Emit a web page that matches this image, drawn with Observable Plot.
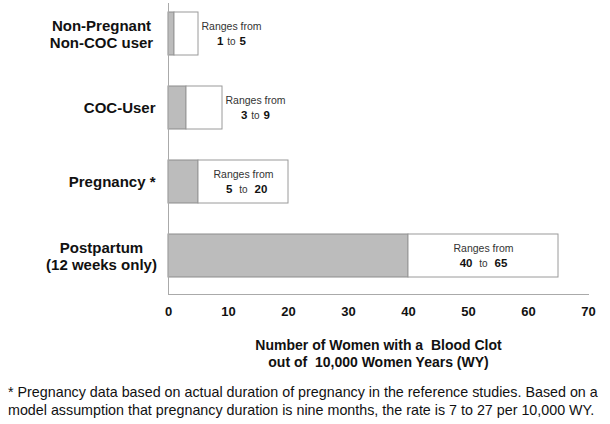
<!DOCTYPE html>
<html>
<head>
<meta charset="utf-8">
<script src="https://cdn.jsdelivr.net/npm/d3@7"></script>
<script src="https://cdn.jsdelivr.net/npm/@observablehq/plot@0.6"></script>
<style>
  body { margin: 0; background: #fff; font-family: "Liberation Sans", Arial, sans-serif; }
  #foot { font-size: 14.3px; line-height: 18px; padding: 13px 0 0 8px; white-space: nowrap; color: #111; }
</style>
</head>
<body>
<div id="chart"></div>
<div id="foot">* Pregnancy data based on actual duration of pregnancy in the reference studies. Based on a<br>model assumption that pregnancy duration is nine months, the rate is 7 to 27 per 10,000 WY.</div>
<script>
const categories = ["Non-Pregnant\nNon-COC user", "COC-User", "Pregnancy *", "Postpartum\n(12 weeks only)"];
const lows = [1, 3, 5, 40];
const highs = [5, 9, 20, 65];
const xTicks = [0, 10, 20, 30, 40, 50, 60, 70];
const xTitle = "Number of Women with a  Blood Clot\nout of  10,000 Women Years (WY)";

const data = categories.map((c, i) => {
  const lo = lows[i], hi = highs[i];
  const wide = hi - lo >= 10;
  return { cat: c, lo, hi, lx: wide ? (lo + hi) / 2 : hi + 5.5, gap: wide ? 11 : 8 };
});

const single = categories.filter(c => !c.includes("\n"));
const multi = categories.filter(c => c.includes("\n"));

const chart = Plot.plot({
  width: 610,
  height: 370,
  marginLeft: 168,
  marginRight: 22,
  marginTop: 3,
  marginBottom: 76,
  style: { fontFamily: "Liberation Sans, Arial, sans-serif", color: "#111", background: "#fff" },
  x: { domain: [0, 70], ticks: xTicks },
  y: { domain: categories, paddingInner: 0.421, paddingOuter: 0.169, align: 0.36 },
  marks: [
    Plot.barX(data, { y: "cat", x1: 0, x2: "lo", fill: "#bcbcbc", stroke: "#8c8c8c", strokeWidth: 1 }),
    Plot.barX(data, { y: "cat", x1: "lo", x2: "hi", fill: "#fff", stroke: "#9a9a9a", strokeWidth: 1 }),
    Plot.ruleX([0], { stroke: "#aaa" }),
    Plot.frame({ anchor: "bottom", stroke: "#aaa" }),
    Plot.text(data, { y: "cat", x: "lx", text: () => "Ranges from", dy: -7, fontSize: 10.5, fill: "#333" }),
    Plot.text(data, { y: "cat", x: "lx", text: () => "to", dy: 7.5, fontSize: 10, fill: "#333" }),
    Plot.text(data.filter(d => d.gap === 8), { y: "cat", x: "lx", text: d => String(d.lo), dy: 7, dx: -8, textAnchor: "end", fontSize: 11.5, fontWeight: "bold", fill: "#111" }),
    Plot.text(data.filter(d => d.gap === 8), { y: "cat", x: "lx", text: d => String(d.hi), dy: 7, dx: 8, textAnchor: "start", fontSize: 11.5, fontWeight: "bold", fill: "#111" }),
    Plot.text(data.filter(d => d.gap === 11), { y: "cat", x: "lx", text: d => String(d.lo), dy: 7, dx: -11, textAnchor: "end", fontSize: 11.5, fontWeight: "bold", fill: "#111" }),
    Plot.text(data.filter(d => d.gap === 11), { y: "cat", x: "lx", text: d => String(d.hi), dy: 7, dx: 11, textAnchor: "start", fontSize: 11.5, fontWeight: "bold", fill: "#111" }),
    Plot.axisY({ ticks: single, tickSize: 0, tickPadding: 13, fontSize: 15, fontWeight: "bold", label: null }),
    Plot.axisY({ ticks: multi, tickSize: 0, tickPadding: 13, textAnchor: "middle", dx: -54, lineHeight: 1.15, fontSize: 15, fontWeight: "bold", label: null }),
    Plot.axisX({ ticks: xTicks, tickSize: 0, tickPadding: 12, fontSize: 13, fontWeight: "bold", label: null }),
    Plot.text([xTitle], { frameAnchor: "bottom", dy: 44, lineAnchor: "top", lineHeight: 1.2, fontSize: 14, fontWeight: "bold", fill: "#111" })
  ]
});
document.getElementById("chart").appendChild(chart);
</script>
</body>
</html>
